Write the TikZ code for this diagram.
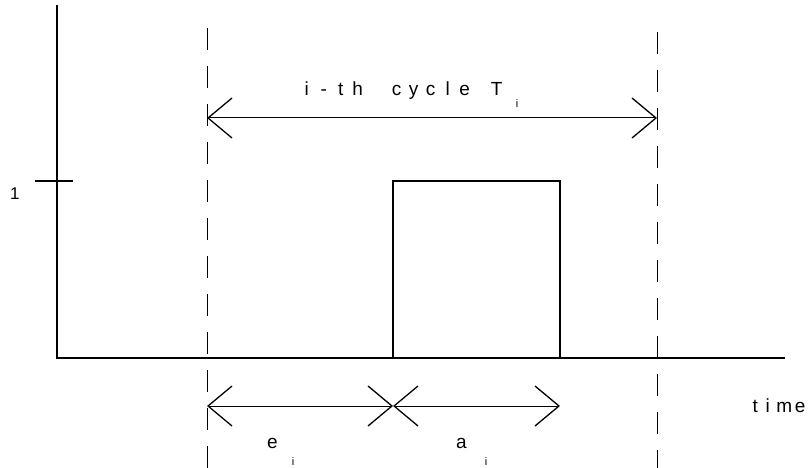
\documentclass[tikz,border=0pt]{standalone}
\usepackage{fontspec}
\setmainfont{Liberation Sans}
\usetikzlibrary{arrows.meta}
\newcommand\chcell[2][17pt]{\makebox[#1][c]{#2}}
\begin{document}
\begin{tikzpicture}[x=1pt,y=-1pt,
  axis/.style={line width=1.2pt},
  guide/.style={line width=0.9pt, dash pattern=on 22pt off 16pt},
  barb/.tip={Straight Barb[length=24pt,width=40pt,line width=1.3pt]},
  dimline/.style={line width=1pt, barb-barb},
  lbl/.style={inner sep=0pt, anchor=base west, font=\fontsize{19}{22}\selectfont},
  sub/.style={inner sep=0pt, font=\fontsize{11}{13}\selectfont}
]
\useasboundingbox (0,0) rectangle (812,468);
% coordinates
\coordinate (ytop) at (57,5);
\coordinate (orig) at (57,358);
\coordinate (xend) at (785,358);
\coordinate (tickL) at (35,181);
\coordinate (tickR) at (73,181);
\coordinate (g1top) at (207,28);
\coordinate (g1bot) at (207,468);
\coordinate (g2top) at (657,32);
\coordinate (g2bot) at (657,468);
\coordinate (c1) at (207,118);
\coordinate (c2) at (657,118);
\coordinate (pBL) at (393,358);
\coordinate (pTL) at (393,181);
\coordinate (pTR) at (560,181);
\coordinate (pBR) at (560,358);
\coordinate (b1) at (207,406);
\coordinate (b2) at (393,406);
\coordinate (b3) at (560,406);
% axes
\draw[axis] (ytop) -- (orig) -- (xend);
\draw[axis] (tickL) -- (tickR);
\node[inner sep=0pt, anchor=base west, font=\fontsize{17}{20}\selectfont] (one) at (10,200) {1};
% guides
\draw[guide] (g1top) -- (g1bot);
\draw[guide] (g2top) -- (g2bot);
% cycle arrow
\draw[dimline] (c1) -- (c2);
\node[lbl] (cyc) at (298,96) {\chcell{i}\chcell{-}\chcell{t}\chcell{h}\hspace{22pt}\chcell{c}\chcell{y}\chcell{c}\chcell{l}\chcell{e}\hspace{15pt}\chcell{T}};
\node[sub] (cycsub) at (517,104) {i};
% pulse
\draw[axis] (pBL) -- (pTL) -- (pTR) -- (pBR);
% e and a arrows
\draw[dimline] (b1) -- (b2);
\draw[dimline] (b2) -- (b3);
\node[lbl] (elab) at (267,448) {e};
\node[sub] (esub) at (293,462) {i};
\node[lbl] (alab) at (456,448) {a};
\node[sub] (asub) at (486,462) {i};
\node[lbl] (time) at (749,412) {\chcell[12pt]{t}\chcell[13pt]{i}\chcell[20pt]{m}\chcell[12pt]{e}};
\end{tikzpicture}
\end{document}
